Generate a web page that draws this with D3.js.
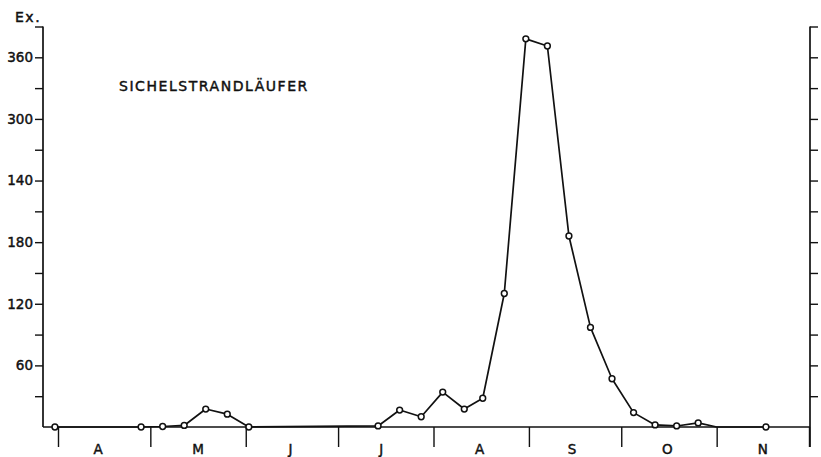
<!DOCTYPE html>
<html>
<head>
<meta charset="utf-8">
<script src="https://cdn.jsdelivr.net/npm/d3@7"></script>
<style>
  body { margin: 0; background: #fff; }
  text { font-family: "DejaVu Sans", sans-serif; fill: #111; stroke: #111; stroke-width: 0.45px; }
</style>
</head>
<body>
<div id="chart"></div>
<script>
'use strict';

// day offsets from 1 April, weekly counts
var days   = [-1, 27, 34, 41, 48, 55, 62, 104, 111, 118, 125, 132, 138, 145, 152, 159, 166, 173, 180, 187, 194, 201, 208, 214, 230];
var counts = [0, 0, 0.5, 1.5, 17.5, 12.5, 0, 1, 16.5, 10, 34, 17.5, 28, 130, 378, 371, 186, 97, 47, 14, 2, 1, 4, 0, 0];
var marked = [1, 1, 1, 1, 1, 1, 1, 1, 1, 1, 1, 1, 1, 1, 1, 1, 1, 1, 1, 1, 1, 1, 1, 0, 1];

var monthLabels = ['A', 'M', 'J', 'J', 'A', 'S', 'O', 'N'];
var monthStarts = [0, 30, 61, 91, 122, 153, 183, 214, 244];
var monthLabelDays = [13, 45.5, 75.5, 105, 137, 167, 198, 229];

var yTickValues = [60, 120, 180, 240, 300, 360];
var yTickLabels = ['60', '120', '180', '140', '300', '360'];
var yMinorValues = [30, 90, 150, 210, 270, 330, 390];
var rightTickValues = [30, 60, 90, 120, 150, 180, 210, 240, 270, 300, 330, 360, 390];

var titleText = 'SICHELSTRANDLÄUFER';
var unitText = 'Ex.';

var width = 821, height = 457;
var axisLeftX = 43, axisRightX = 810;

var x = d3.scaleLinear().domain([0, 244]).range([58, 809]);
var y = d3.scaleLinear().domain([0, 390]).range([427, 26.5]);

var svg = d3.select('#chart')
  .append('svg')
    .attr('width', width)
    .attr('height', height);

var ink = '#111';

// left axis
var left = svg.append('g')
  .attr('transform', 'translate(' + axisLeftX + ',0)')
  .call(d3.axisLeft(y)
    .tickValues(yTickValues)
    .tickFormat(function(d, i) { return yTickLabels[i]; })
    .tickSize(8)
    .tickPadding(2));
left.select('.domain').remove();
left.selectAll('line').attr('stroke', ink).attr('stroke-width', 1.4);
left.selectAll('text')
  .attr('fill', ink)
  .style('font-size', '13.5px')
  .style('font-family', '"DejaVu Sans", sans-serif')
  .style('stroke', ink)
  .style('stroke-width', '0.45px');

var leftMinor = svg.append('g')
  .attr('transform', 'translate(' + axisLeftX + ',0)')
  .call(d3.axisLeft(y).tickValues(yMinorValues).tickSize(8).tickFormat(''));
leftMinor.select('.domain').remove();
leftMinor.selectAll('line').attr('stroke', ink).attr('stroke-width', 1.4);

svg.append('line')
  .attr('x1', axisLeftX).attr('x2', axisLeftX)
  .attr('y1', y(0)).attr('y2', y(390))
  .attr('stroke', ink).attr('stroke-width', 1.7);

// right axis
var right = svg.append('g')
  .attr('transform', 'translate(' + axisRightX + ',0)')
  .call(d3.axisRight(y).tickValues(rightTickValues).tickSize(8).tickFormat(''));
right.select('.domain').remove();
right.selectAll('line').attr('stroke', ink).attr('stroke-width', 1.4);

svg.append('line')
  .attr('x1', axisRightX).attr('x2', axisRightX)
  .attr('y1', y(0) + 20).attr('y2', y(390))
  .attr('stroke', ink).attr('stroke-width', 1.7);

// baseline
svg.append('line')
  .attr('x1', axisLeftX).attr('x2', axisRightX)
  .attr('y1', y(0)).attr('y2', y(0))
  .attr('stroke', ink).attr('stroke-width', 1.7);

// month boundary ticks
var bottom = svg.append('g')
  .attr('transform', 'translate(0,' + y(0) + ')')
  .call(d3.axisBottom(x).tickValues(monthStarts).tickSize(20).tickFormat(''));
bottom.select('.domain').remove();
bottom.selectAll('line').attr('stroke', ink).attr('stroke-width', 1.4);

svg.append('g')
  .selectAll('text')
  .data(monthLabels)
  .enter()
  .append('text')
    .attr('x', function(d, i) { return x(monthLabelDays[i]); })
    .attr('y', 454)
    .style('font-size', '13.5px')
    .style('text-anchor', 'middle')
    .text(function(d) { return d; });

// titles
svg.append('text')
  .attr('x', 15).attr('y', 22)
  .style('font-size', '14px')
  .style('letter-spacing', '1.5px')
  .text(unitText);

svg.append('text')
  .attr('x', 119).attr('y', 91)
  .style('font-size', '14px')
  .style('letter-spacing', '1.55px')
  .text(titleText);

// series
var pts = days.map(function(d, i) { return { day: d, value: counts[i], mark: marked[i] }; });

svg.append('path')
  .datum(pts)
  .attr('fill', 'none')
  .attr('stroke', ink)
  .attr('stroke-width', 1.7)
  .attr('stroke-linejoin', 'round')
  .attr('d', d3.line()
    .x(function(d) { return x(d.day); })
    .y(function(d) { return y(d.value); }));

svg.append('g')
  .selectAll('circle')
  .data(pts.filter(function(d) { return d.mark; }))
  .enter()
  .append('circle')
    .attr('cx', function(d) { return x(d.day); })
    .attr('cy', function(d) { return y(d.value); })
    .attr('r', 2.9)
    .attr('fill', '#fff')
    .attr('stroke', ink)
    .attr('stroke-width', 1.5);
</script>
</body>
</html>
